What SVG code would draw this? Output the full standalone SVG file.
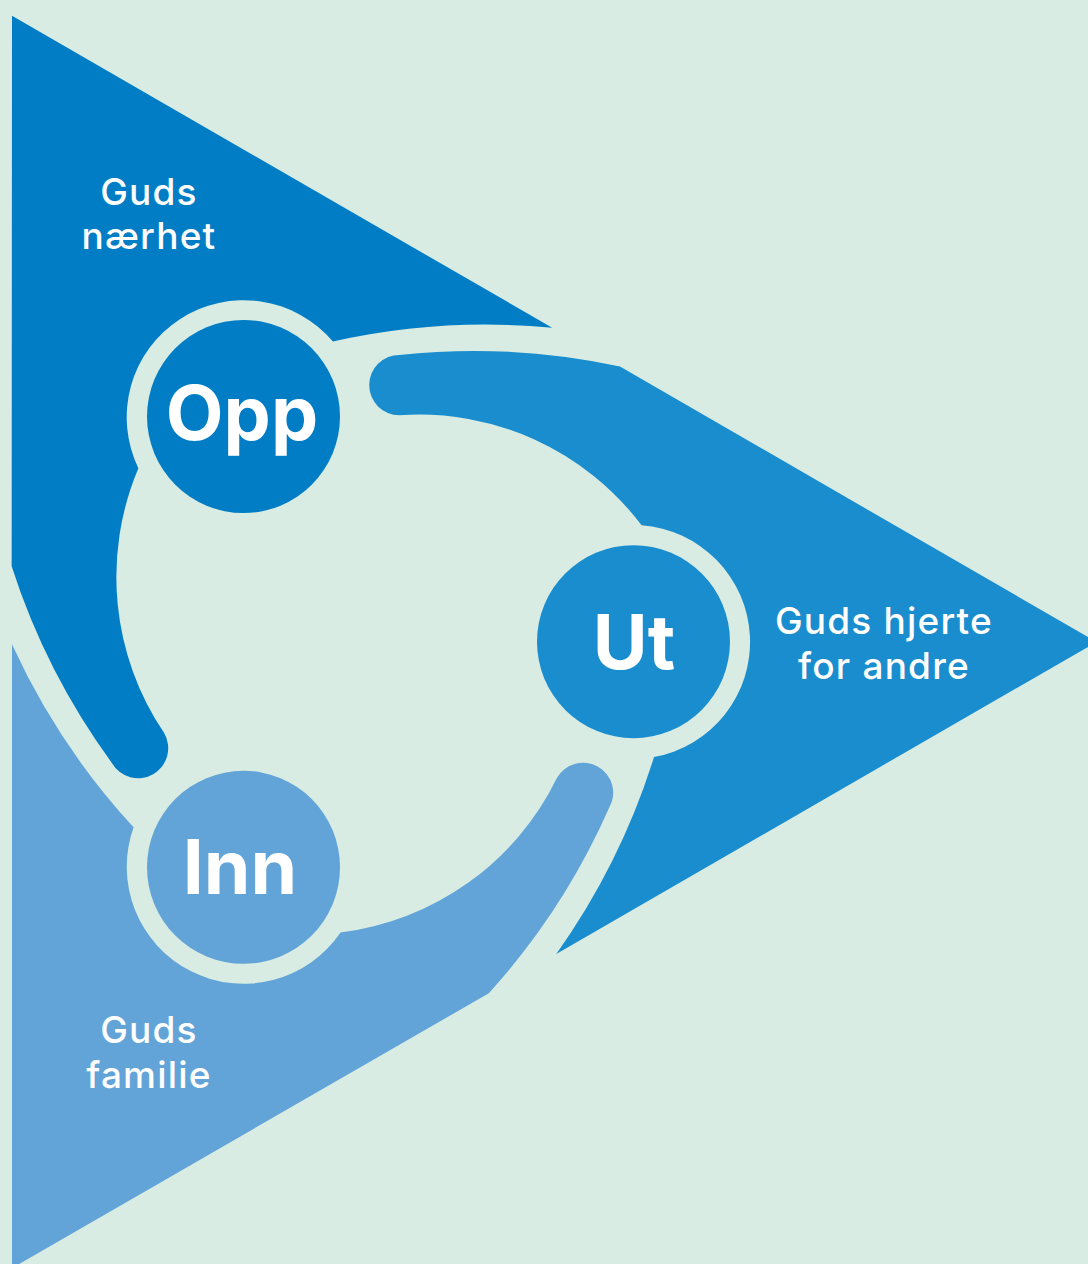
<svg xmlns="http://www.w3.org/2000/svg" xmlns:xlink="http://www.w3.org/1999/xlink" width="1088" height="1264" viewBox="0 0 1088 1264">
<style>
.lbl{font-family:Inter,"Noto Sans","Liberation Sans",sans-serif;font-weight:500;font-size:37px;letter-spacing:1.2px;fill:#ffffff;text-anchor:middle}
.big{font-family:Inter,"Noto Sans","Liberation Sans",sans-serif;font-weight:700;font-size:75px;fill:#ffffff;text-anchor:middle}
</style>
<defs>
<path id="region" d="M 399.3 355 A 690 690 0 0 1 620 366.5 L 1096.5 642 L 556.3 953.9 A 697.6 697.6 0 0 0 654 757.1 A 117 117 0 0 0 641.6 525.3 A 279 279 0 0 0 399.3 415.2 A 30 30 0 0 1 399.3 355 Z"/>
</defs>
<rect width="1088" height="1264" fill="#d8ece3"/>
<g id="node-opp">
<use xlink:href="#region" href="#region" transform="rotate(-120 373.5 642)" fill="#017dc5"/>
<circle cx="243.5" cy="416.5" r="96.5" fill="#017dc5"/>
<text class="big" x="242" y="440">Opp</text>
<text class="lbl" x="149" y="205">Guds</text>
<text class="lbl" x="149" y="249">nærhet</text>
</g>
<g id="node-ut">
<use xlink:href="#region" href="#region" fill="#1a8dce"/>
<circle cx="633.5" cy="641.7" r="96.5" fill="#1a8dce"/>
<text class="big" x="634" y="669">Ut</text>
<text class="lbl" x="884" y="634">Guds hjerte</text>
<text class="lbl" x="884" y="679">for andre</text>
</g>
<g id="node-inn">
<use xlink:href="#region" href="#region" transform="rotate(120 373.5 642)" fill="#62a4d8"/>
<circle cx="243.5" cy="867.3" r="96.5" fill="#62a4d8"/>
<text class="big" x="240" y="894">Inn</text>
<text class="lbl" x="149" y="1043">Guds</text>
<text class="lbl" x="149" y="1088">familie</text>
</g>
<g id="connectors"></g>
</svg>
